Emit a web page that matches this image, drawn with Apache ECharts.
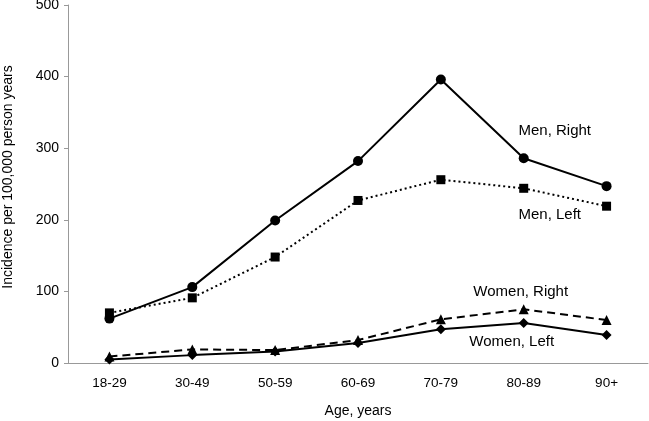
<!DOCTYPE html>
<html>
<head>
<meta charset="utf-8">
<script src="https://cdn.jsdelivr.net/npm/echarts@6/dist/echarts.min.js"></script>
<style>
html,body{margin:0;padding:0;background:#fff;}
#chart{width:649px;height:421px;}
</style>
</head>
<body>
<div id="chart"></div>
<script>
const categories = ['18-29', '30-49', '50-59', '60-69', '70-79', '80-89', '90+'];
const menRight = [62, 106, 199, 282, 396, 286, 247];
const menLeft = [70, 91, 148, 227, 256, 244, 219];
const womenRight = [9, 19, 18, 32, 61, 75, 60];
const womenLeft = [5, 11, 16, 28, 47, 56, 39];
const yTicks = [0, 100, 200, 300, 400, 500];
const seriesNames = ['Men, Right', 'Men, Left', 'Women, Right', 'Women, Left'];

function withLabel(values, idx, text, offset) {
  return values.map(function (v, i) {
    if (i !== idx) return v;
    return {
      value: v,
      label: {
        show: true, formatter: text, position: 'inside', offset: offset,
        color: '#000', fontSize: 15, fontFamily: 'Liberation Sans, Arial, sans-serif',
        align: 'center', verticalAlign: 'middle'
      }
    };
  });
}

const font = 'Liberation Sans, Arial, sans-serif';
const chart = echarts.init(document.getElementById('chart'), null, {renderer: 'canvas'});
const lineBase = {type: 'line', color: '#000', symbolSize: 9, animation: false, z: 2};
chart.setOption({
  backgroundColor: '#fff',
  animation: false,
  grid: {left: 68, right: 1, top: 5, bottom: 58, containLabel: false, outerBoundsMode: 'none'},
  xAxis: {
    type: 'category', data: categories, boundaryGap: true,
    name: 'Age, years', nameLocation: 'middle', nameGap: 41,
    nameTextStyle: {color: '#000', fontSize: 14, fontFamily: font},
    axisLine: {lineStyle: {color: '#999', width: 1}},
    axisTick: {alignWithLabel: true, length: 4, lineStyle: {color: '#999'}},
    axisLabel: {color: '#000', fontSize: 13.5, fontFamily: font, margin: 13},
    splitLine: {show: false}
  },
  yAxis: {
    type: 'value', min: yTicks[0], max: yTicks[yTicks.length - 1], interval: 100,
    name: 'Incidence per 100,000 person years', nameLocation: 'middle', nameGap: 53,
    nameTextStyle: {color: '#000', fontSize: 14, fontFamily: font, padding: [0, 0, 0, 14]},
    axisLine: {show: true, lineStyle: {color: '#999', width: 1}},
    axisTick: {show: true, length: 4, lineStyle: {color: '#999'}},
    axisLabel: {color: '#000', fontSize: 14, fontFamily: font, margin: 9},
    splitLine: {show: false}
  },
  series: [
    Object.assign({}, lineBase, {
      name: seriesNames[0], symbol: 'circle', symbolSize: 10,
      lineStyle: {color: '#000', width: 2, type: 'solid'},
      itemStyle: {color: '#000'},
      data: withLabel(menRight, 5, seriesNames[0], [31, -27])
    }),
    Object.assign({}, lineBase, {
      name: seriesNames[1], symbol: 'rect', symbolSize: 9,
      lineStyle: {color: '#000', width: 2, type: [2, 3]},
      itemStyle: {color: '#000'},
      data: withLabel(menLeft, 5, seriesNames[1], [26, 27])
    }),
    Object.assign({}, lineBase, {
      name: seriesNames[2], symbol: 'triangle', symbolSize: 10,
      lineStyle: {color: '#000', width: 2, type: [8, 5]},
      itemStyle: {color: '#000'},
      data: withLabel(womenRight, 5, seriesNames[2], [-3, -17])
    }),
    Object.assign({}, lineBase, {
      name: seriesNames[3], symbol: 'diamond', symbolSize: 10,
      lineStyle: {color: '#000', width: 2, type: 'solid'},
      itemStyle: {color: '#000'},
      data: withLabel(womenLeft, 5, seriesNames[3], [-12, 19])
    })
  ]
});
</script>
</body>
</html>
